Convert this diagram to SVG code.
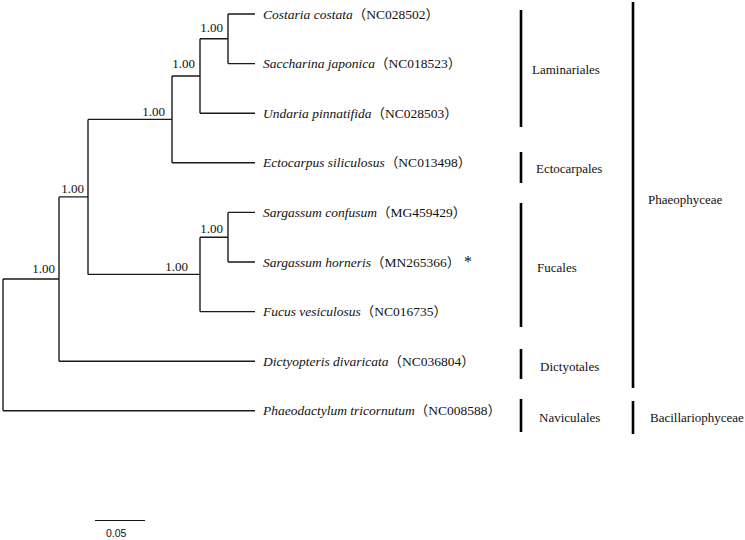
<svg xmlns="http://www.w3.org/2000/svg" width="745" height="540" viewBox="0 0 745 540">
<style>
.br{fill:none;stroke:#1a1a1a;stroke-width:1.4}
.bar{stroke:#000;stroke-width:2.6}
.sup{font-family:"Liberation Serif","Times New Roman",serif;font-size:13px;fill:#111;text-anchor:end}
.tip{font-family:"Liberation Serif","Times New Roman","Noto Sans CJK SC",serif;font-size:13.5px;fill:#111}
.it{font-style:italic}
.grp{font-family:"Liberation Serif","Times New Roman",serif;font-size:13px;fill:#111}
.sc{font-family:"Liberation Sans",Arial,sans-serif;font-size:10.5px;fill:#111}
</style>
<rect width="745" height="540" fill="#fff"/>
<g id="connectors">
<path class="br" d="M228,14 H255 M228,63.6 H255 M228,14 V63.6"/>
<path class="br" d="M200,38.8 H228 M200,113.2 H255 M200,38.8 V113.2"/>
<path class="br" d="M172,76 H200 M172,162.8 H255 M172,76 V162.8"/>
<path class="br" d="M228,212.4 H255 M228,262 H255 M228,212.4 V262"/>
<path class="br" d="M200,237.2 H228 M200,311.6 H255 M200,237.2 V311.6"/>
<path class="br" d="M88,119.4 H172 M88,274.4 H200 M88,119.4 V274.4"/>
<path class="br" d="M59,196.9 H88 M59,361.2 H255 M59,196.9 V361.2"/>
<path class="br" d="M3,279 H59 M3,410.8 H255 M3,279 V410.8"/>
</g>
<g id="support">
<text class="sup" x="223" y="32">1.00</text>
<text class="sup" x="195" y="68">1.00</text>
<text class="sup" x="165" y="116">1.00</text>
<text class="sup" x="84" y="193">1.00</text>
<text class="sup" x="55" y="273">1.00</text>
<text class="sup" x="188" y="271">1.00</text>
<text class="sup" x="223" y="233">1.00</text>
</g>
<g id="tip-costaria"><text class="tip" x="263" y="18.5"><tspan class="it">Costaria costata</tspan>（NC028502）</text></g>
<g id="tip-saccharina"><text class="tip" x="263" y="68"><tspan class="it">Saccharina japonica</tspan>（NC018523）</text></g>
<g id="tip-undaria"><text class="tip" x="263" y="117.5"><tspan class="it">Undaria pinnatifida</tspan>（NC028503）</text></g>
<g id="tip-ectocarpus"><text class="tip" x="263" y="167"><tspan class="it">Ectocarpus siliculosus</tspan>（NC013498）</text></g>
<g id="tip-sconfusum"><text class="tip" x="263" y="217"><tspan class="it">Sargassum confusum</tspan>（MG459429）</text></g>
<g id="tip-shorneris"><text class="tip" x="263" y="266.5"><tspan class="it">Sargassum horneris</tspan>（MN265366）<tspan x="464" font-size="16">*</tspan></text></g>
<g id="tip-fucus"><text class="tip" x="263" y="316"><tspan class="it">Fucus vesiculosus</tspan>（NC016735）</text></g>
<g id="tip-dictyopteris"><text class="tip" x="263" y="365.5"><tspan class="it">Dictyopteris divaricata</tspan>（NC036804）</text></g>
<g id="tip-phaeodactylum"><text class="tip" x="263" y="415"><tspan class="it">Phaeodactylum tricornutum</tspan>（NC008588）</text></g>
<g id="grp-laminariales"><line class="bar" x1="521" y1="10" x2="521" y2="127"/><text class="grp" x="532" y="74">Laminariales</text></g>
<g id="grp-ectocarpales"><line class="bar" x1="521" y1="152" x2="521" y2="183"/><text class="grp" x="536" y="173">Ectocarpales</text></g>
<g id="grp-fucales"><line class="bar" x1="521" y1="203" x2="521" y2="327"/><text class="grp" x="537" y="272">Fucales</text></g>
<g id="grp-dictyotales"><line class="bar" x1="521" y1="349" x2="521" y2="379"/><text class="grp" x="540" y="371">Dictyotales</text></g>
<g id="grp-naviculales"><line class="bar" x1="521" y1="399" x2="521" y2="432"/><text class="grp" x="539" y="422">Naviculales</text></g>
<g id="grp-phaeophyceae"><line class="bar" x1="633" y1="2" x2="633" y2="388"/><text class="grp" x="648" y="204">Phaeophyceae</text></g>
<g id="grp-bacillariophyceae"><line class="bar" x1="633" y1="401" x2="633" y2="434"/><text class="grp" x="650" y="422">Bacillariophyceae</text></g>
<g id="scale"><line x1="95" y1="520.5" x2="145" y2="520.5" stroke="#111" stroke-width="1"/><text class="sc" x="106" y="537">0.05</text></g>
</svg>
